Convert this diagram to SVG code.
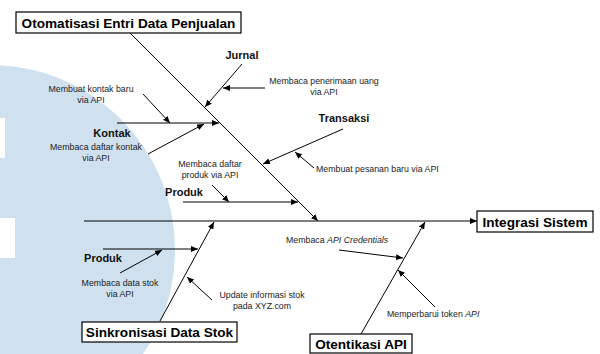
<svg xmlns="http://www.w3.org/2000/svg" width="600" height="354" viewBox="0 0 600 354">
  <defs>
    <marker id="arr" markerUnits="userSpaceOnUse" markerWidth="8" markerHeight="6" refX="7" refY="3" orient="auto">
      <path d="M0,0 L7,3 L0,6 z" fill="#000"/>
    </marker>
    <clipPath id="page"><rect x="0" y="0" width="600" height="354"/></clipPath>
  </defs>
  <style>
    .ln { stroke: #000; stroke-width: 1; fill: none; }
    .ar { stroke: #000; stroke-width: 1; fill: none; marker-end: url(#arr); }
    .box { fill: #fff; stroke: #000; stroke-width: 1.2; }
    .head { font-family: "Liberation Sans", Arial, sans-serif; font-weight: bold; font-size: 13.6px; fill: #000; }
    .cat { font-family: "Liberation Sans", Arial, sans-serif; font-weight: bold; font-size: 11px; fill: #111; }
    .note { font-family: "Liberation Sans", Arial, sans-serif; font-size: 8.8px; fill: #222; }
  </style>

  <!-- background watermark -->
  <g id="watermark" clip-path="url(#page)">
    <circle cx="-10" cy="250" r="185" fill="#cfe0ef"/>
    <rect x="0" y="118" width="5" height="40" fill="#fff"/>
    <rect x="0" y="218" width="15" height="40" fill="#fff"/>
  </g>

  <!-- connectors -->
  <g id="connectors">
    <!-- spine -->
    <line class="ar" x1="84" y1="221" x2="477" y2="221"/>
    <!-- top-left bone -->
    <line class="ar" x1="130" y1="33" x2="318" y2="221"/>
    <!-- Jurnal -->
    <line class="ar" x1="242" y1="64" x2="205" y2="107"/>
    <line class="ar" x1="265" y1="88" x2="223" y2="88"/>
    <!-- Kontak -->
    <line class="ar" x1="117" y1="123" x2="219" y2="123"/>
    <line class="ar" x1="143" y1="94" x2="170" y2="123"/>
    <line class="ar" x1="148" y1="154" x2="204" y2="124"/>
    <!-- Transaksi -->
    <line class="ar" x1="343" y1="129" x2="263" y2="164"/>
    <line class="ar" x1="314" y1="168" x2="295" y2="152"/>
    <!-- Produk (top) -->
    <line class="ar" x1="183" y1="202" x2="298" y2="202"/>
    <line class="ar" x1="212" y1="185" x2="229" y2="202"/>
    <!-- bottom-left bone -->
    <line class="ar" x1="160" y1="321" x2="214" y2="222"/>
    <line class="ar" x1="103" y1="249" x2="198" y2="249"/>
    <line class="ar" x1="120" y1="273" x2="162" y2="250"/>
    <line class="ar" x1="212" y1="300" x2="187" y2="277"/>
    <!-- bottom-right bone -->
    <line class="ar" x1="361" y1="334" x2="425" y2="222"/>
    <line class="ar" x1="339" y1="250" x2="403" y2="258"/>
    <line class="ar" x1="435" y1="307" x2="398" y2="270"/>
  </g>

  <g id="otomatisasi">
    <rect class="box" x="16" y="12" width="225" height="21"/>
    <text class="head" x="128.5" y="27.5" text-anchor="middle">Otomatisasi Entri Data Penjualan</text>
  </g>

  <g id="integrasi">
    <rect class="box" x="477" y="211" width="116" height="21"/>
    <text class="head" x="535" y="226.5" text-anchor="middle">Integrasi Sistem</text>
  </g>

  <g id="sinkronisasi">
    <rect class="box" x="82" y="322" width="155" height="20"/>
    <text class="head" x="159.5" y="337" text-anchor="middle">Sinkronisasi Data Stok</text>
  </g>

  <g id="otentikasi">
    <rect class="box" x="310" y="334" width="102" height="19"/>
    <text class="head" x="361" y="348.5" text-anchor="middle">Otentikasi API</text>
  </g>

  <g id="jurnal">
    <text class="cat" x="242" y="59" text-anchor="middle">Jurnal</text>
    <text class="note" x="324" y="84" text-anchor="middle">Membaca penerimaan uang</text>
    <text class="note" x="324" y="95" text-anchor="middle">via API</text>
  </g>

  <g id="kontak">
    <text class="note" x="91" y="92" text-anchor="middle">Membuat kontak baru</text>
    <text class="note" x="91" y="103" text-anchor="middle">via API</text>
    <text class="cat" x="112" y="137" text-anchor="middle">Kontak</text>
    <text class="note" x="96" y="150" text-anchor="middle">Membaca daftar kontak</text>
    <text class="note" x="96" y="161" text-anchor="middle">via API</text>
  </g>

  <g id="transaksi">
    <text class="cat" x="344" y="122" text-anchor="middle">Transaksi</text>
    <text class="note" x="316" y="172">Membuat pesanan baru via API</text>
  </g>

  <g id="produk-daftar">
    <text class="note" x="210" y="167" text-anchor="middle">Membaca daftar</text>
    <text class="note" x="210" y="178" text-anchor="middle">produk via API</text>
    <text class="cat" x="184" y="196" text-anchor="middle">Produk</text>
  </g>

  <g id="produk-stok">
    <text class="cat" x="103" y="262" text-anchor="middle">Produk</text>
    <text class="note" x="120" y="286" text-anchor="middle">Membaca data stok</text>
    <text class="note" x="120" y="297" text-anchor="middle">via API</text>
    <text class="note" x="262" y="298" text-anchor="middle">Update informasi stok</text>
    <text class="note" x="262" y="309" text-anchor="middle">pada XYZ.com</text>
  </g>

  <g id="kredensial">
    <text class="note" x="286" y="243">Membaca <tspan font-style="italic">API Credentials</tspan></text>
    <text class="note" x="387" y="317">Memperbarui token <tspan font-style="italic">API</tspan></text>
  </g>
</svg>
